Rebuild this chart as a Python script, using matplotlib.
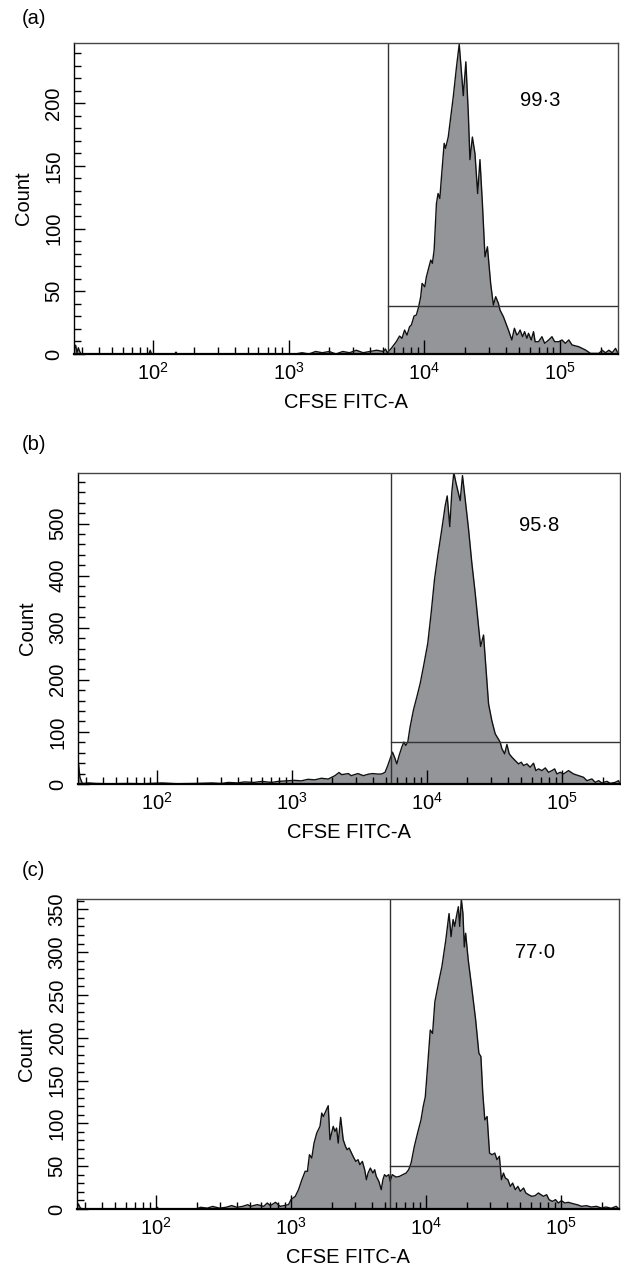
import numpy as np
import matplotlib
matplotlib.use('Agg')
from matplotlib import pyplot as plt
from matplotlib.ticker import LogLocator, MultipleLocator, NullFormatter

plt.rcParams['font.family'] = ['Liberation Sans', 'DejaVu Sans']
plt.rcParams['mathtext.fontset'] = 'custom'
plt.rcParams['mathtext.rm'] = 'Liberation Sans'
plt.rcParams['mathtext.it'] = 'Liberation Sans:italic'

# histogram outlines: log10(CFSE FITC-A), count
log_a = [1.415, 1.42, 1.43, 1.44, 1.45, 1.46, 1.47, 1.97, 1.98, 1.99, 2.16, 2.17, 2.18,
         3.05, 3.10, 3.15, 3.20, 3.25, 3.30, 3.35, 3.40, 3.45, 3.50, 3.55, 3.60, 3.65, 3.70, 3.715,
         3.728, 3.758, 3.795, 3.819, 3.837, 3.856, 3.874, 3.893, 3.906, 3.926, 3.943, 3.960,
         3.975, 3.985, 4.005, 4.017, 4.049, 4.061, 4.074, 4.091, 4.103, 4.116, 4.128, 4.148,
         4.158, 4.178, 4.215, 4.239, 4.259, 4.276, 4.289, 4.308, 4.326, 4.338, 4.356, 4.375,
         4.395, 4.412, 4.430, 4.449, 4.467, 4.491, 4.511, 4.528, 4.548, 4.560, 4.585, 4.622,
         4.647, 4.666, 4.684, 4.696, 4.708, 4.726, 4.741, 4.758, 4.770, 4.790, 4.807, 4.819,
         4.844, 4.869, 4.889, 4.919, 4.943, 4.963, 4.993, 5.017, 5.042, 5.067, 5.091, 5.141,
         5.190, 5.227, 5.289, 5.313, 5.338, 5.363, 5.387, 5.412, 5.43]
count_a = [0, 4, 7, 1, 5, 2, 0, 0, 3, 0, 0, 1.5, 0,
           0, 1, 0, 2, 1, 2, 0, 2, 1, 3, 1, 2, 3, 2, 4,
           1, 4.5, 9.8, 14.3, 12.5, 19.1, 15.1, 21.8, 23.1, 30.3, 31.1, 37.7,
           45.7, 56.3, 53.6, 61.6, 74.9, 72.3, 82.9, 120, 128, 124, 141, 168,
           164, 173, 205, 229, 247, 224, 206, 233, 192, 155, 173, 160,
           128, 155, 120, 77.5, 85.5, 56, 39, 45.7, 40.4, 35, 29.7, 19.1,
           11.2, 20.5, 15.1, 16.5, 19.1, 13.8, 17.8, 12.5, 16.5, 11.2, 17.8, 9.8,
           9.8, 13.8, 8.5, 11.2, 13.8, 9.8, 9.8, 11.2, 8.5, 11.2, 7.2, 5.8,
           3.2, 0.5, 0.5, 3, 1, 3, 1, 4.5, 0.5]

log_b = [1.415, 1.42, 1.432, 1.45, 1.50, 1.55, 1.65, 1.79, 1.90, 2.04, 2.15, 2.28, 2.41, 2.48,
         2.53, 2.60, 2.65, 2.72, 2.78, 2.85, 2.90, 2.96, 3.02, 3.07, 3.12, 3.17, 3.22, 3.27,
         3.32, 3.35, 3.37, 3.42, 3.44, 3.49, 3.53, 3.57, 3.60, 3.64,
         3.667, 3.691, 3.711, 3.728, 3.746, 3.761, 3.778, 3.795, 3.815, 3.830, 3.844, 3.859,
         3.876, 3.901, 3.926, 3.951, 3.975, 4.007, 4.032, 4.057, 4.081, 4.111, 4.136, 4.151,
         4.170, 4.185, 4.200, 4.215, 4.247, 4.264, 4.284, 4.309, 4.333, 4.358, 4.383, 4.398,
         4.420, 4.437, 4.457, 4.481, 4.506, 4.543, 4.556, 4.576, 4.593, 4.610, 4.630, 4.654,
         4.679, 4.699, 4.716, 4.741, 4.765, 4.790, 4.807, 4.827, 4.852, 4.877, 4.901, 4.926,
         4.946, 4.963, 4.988, 5.012, 5.049, 5.086, 5.123, 5.160, 5.185, 5.222, 5.247, 5.272,
         5.296, 5.333, 5.358, 5.395, 5.420, 5.43]
count_b = [0, 43, 13, 1, 2, 1, 0.5, 1, 0.5, 2, 0.5, 1, 2, 1,
           3, 2, 4, 3, 5, 3, 5, 6, 7, 6, 9, 8, 11, 9.5,
           16, 22, 18, 20, 16, 20, 16, 19, 20, 19,
           19.3, 22.5, 35.4, 48.3, 61.1, 51.5, 38.6, 54.7, 70.8, 80.4, 74, 80.4,
           109, 142, 167, 193, 225, 270, 328, 393, 438, 489, 534, 553,
           494, 560, 598, 579, 544, 592, 547, 489, 425, 367, 302, 264,
           286, 225, 154, 122, 96.5, 80.4, 67.6, 57.9, 75.9, 57.9, 51.5, 45,
           38.6, 41.8, 35.4, 38.6, 32.2, 39.9, 25.7, 29, 25.7, 30.9, 22.5, 25.7,
           29, 19.3, 22.5, 19.3, 25.7, 19.3, 16.1, 12.9, 6.4, 9.7, 3.2, 6.4,
           1.9, 5.1, 1.3, 3.2, 6.4, 0]

log_c = [1.415, 1.425, 1.44, 1.46, 2.00, 2.01, 2.02, 2.30, 2.33, 2.38, 2.42, 2.47, 2.52,
         2.56, 2.60, 2.64, 2.68,
         2.701, 2.750, 2.799, 2.824, 2.848, 2.885, 2.921, 2.946, 2.982, 3.000, 3.032, 3.056,
         3.081, 3.105, 3.122, 3.137, 3.154, 3.171, 3.191, 3.215, 3.228, 3.240, 3.260, 3.276,
         3.289, 3.301, 3.313, 3.326, 3.338, 3.350, 3.368, 3.387, 3.404, 3.416, 3.431, 3.449,
         3.460, 3.480, 3.497, 3.510, 3.529, 3.546, 3.559, 3.571, 3.588, 3.607, 3.620, 3.632,
         3.651, 3.669, 3.681, 3.693, 3.706, 3.725, 3.735, 3.750, 3.779, 3.804, 3.828, 3.853,
         3.872, 3.890, 3.914, 3.938, 3.963, 3.980, 3.995, 4.012, 4.032, 4.049, 4.066, 4.098,
         4.118, 4.147, 4.171, 4.186, 4.201, 4.213, 4.225, 4.240, 4.250, 4.262, 4.274, 4.284,
         4.294, 4.313, 4.338, 4.368, 4.392, 4.407, 4.421, 4.436, 4.453, 4.471, 4.490, 4.510,
         4.526, 4.544, 4.559, 4.574, 4.588, 4.607, 4.625, 4.642, 4.662, 4.681, 4.699, 4.723,
         4.740, 4.760, 4.784, 4.809, 4.833, 4.870, 4.894, 4.912, 4.936, 4.960, 4.980, 5.004,
         5.029, 5.054, 5.090, 5.127, 5.151, 5.188, 5.225, 5.262, 5.299, 5.335, 5.372, 5.409, 5.43]
count_c = [0, 6, 1, 0, 0, 2, 0, 0, 2, 1, 3, 1, 2,
           4, 2, 3, 5,
           3.1, 5.1, 3.1, 7, 3.9, 7.8, 3.1, 3.9, 5.1, 10.9, 14.8, 22.6,
           34.2, 44, 44, 63.4, 59.5, 77, 88.7, 96.5, 112, 108, 115, 120.6,
           80.9, 88.7, 96.5, 90.6, 94.5, 77, 107, 80.9, 73.1, 69.2, 71.2, 65.3,
           61.5, 55.6, 57.6, 51.7, 55.6, 45.9, 34.2, 42, 47.8, 42, 45.9, 38.1,
           32.3, 22.6, 34.2, 40.1, 38.1, 40.1, 32.3, 40.1, 37.3, 38.1, 40.1, 42,
           45.9, 53.7, 73.1, 88.7, 104, 120, 131, 166, 209, 205, 242, 268,
           283, 314, 345, 318, 338, 330, 341, 353, 330, 362, 345, 306,
           322, 291, 260, 221, 182, 178, 135, 104, 108, 65.3, 63.4, 65.3,
           57.6, 61.5, 34.2, 42, 36.2, 34.2, 26.4, 30.3, 22.6, 26.4, 20.6, 24.5,
           18.7, 16.7, 14.8, 15.6, 18.7, 14.8, 16.7, 10.9, 8.9, 10.9, 7, 9.7,
           7, 7.8, 6.2, 4.7, 3.1, 3.9, 2.3, 3.1, 1.2, 2.3, 0.8, 3.1, 0]

panel_letters = ['(a)', '(b)', '(c)']
gate_pct = ['99·3', '95·8', '77·0']
gate_x = 10 ** 3.735
gate_bar = [38.5, 80, 50]
text_log_x = [4.854, 4.833, 4.81]
text_y = [202, 497, 300]
y_max = [248, 597, 362]
y_major = [50, 100, 50]
y_minor = [10, 20, 10]

W, H = 621, 1268
fig = plt.figure(figsize=(W / 100, H / 100), dpi=100)
# axes boxes in pixels: left, right, top, bottom
boxes = [(73.6, 618, 43, 354), (77.6, 620, 473, 784), (77, 619, 899, 1209)]
letter_y = [18, 445, 870]
fill_col = '#939598'

hists = [(log_a, count_a), (log_b, count_b), (log_c, count_c)]
for i in range(3):
    l, r, t, b = boxes[i]
    ax = fig.add_axes([l / W, 1 - b / H, (r - l) / W, (b - t) / H])
    lx, cnt = hists[i]
    x = 10 ** np.array(lx)
    ax.fill_between(x, 0, cnt, color=fill_col, lw=0)
    ax.plot(x, cnt, color='#111111', lw=1.0)

    ax.axvline(gate_x, color='#333333', lw=1.0)
    ax.plot([gate_x, 10 ** 5.43], [gate_bar[i], gate_bar[i]], color='#333333', lw=1.0)
    ax.text(10 ** text_log_x[i], text_y[i], gate_pct[i], ha='center', va='center', fontsize=14.5)

    ax.set_xscale('log')
    ax.set_xlim(10 ** 1.415, 10 ** 5.43)
    ax.set_ylim(0, y_max[i])
    ax.xaxis.set_major_locator(LogLocator(base=10, numticks=10))
    ax.xaxis.set_minor_locator(LogLocator(base=10, subs=np.arange(2, 10), numticks=20))
    ax.xaxis.set_minor_formatter(NullFormatter())
    ax.yaxis.set_major_locator(MultipleLocator(y_major[i]))
    ax.yaxis.set_minor_locator(MultipleLocator(y_minor[i]))

    ax.tick_params(which='both', direction='in', color='black', width=1.0)
    ax.tick_params(axis='x', which='major', length=10, pad=6, labelsize=14.5)
    ax.tick_params(axis='x', which='minor', length=5)
    ax.tick_params(axis='y', which='major', length=8, pad=7.5, labelsize=14.5, labelrotation=90)
    ax.tick_params(axis='y', which='minor', length=5)
    for lab in ax.get_yticklabels():
        lab.set_va('center')

    for s in ['top', 'right']:
        ax.spines[s].set_color('#444444')
        ax.spines[s].set_linewidth(1.0)
    ax.spines['left'].set_linewidth(1.0)
    ax.spines['bottom'].set_linewidth(1.6)

    ax.set_xlabel('CFSE FITC-A', fontsize=14.5)
    ax.set_ylabel('Count', fontsize=14.5)
    ax.xaxis.set_label_coords(0.5, -0.125)
    ax.yaxis.set_label_coords(-0.075, 0.5)

    fig.text(22 / W, 1 - letter_y[i] / H, panel_letters[i], ha='left', va='center', fontsize=14.5)

fig.savefig('out.png', dpi=100)
